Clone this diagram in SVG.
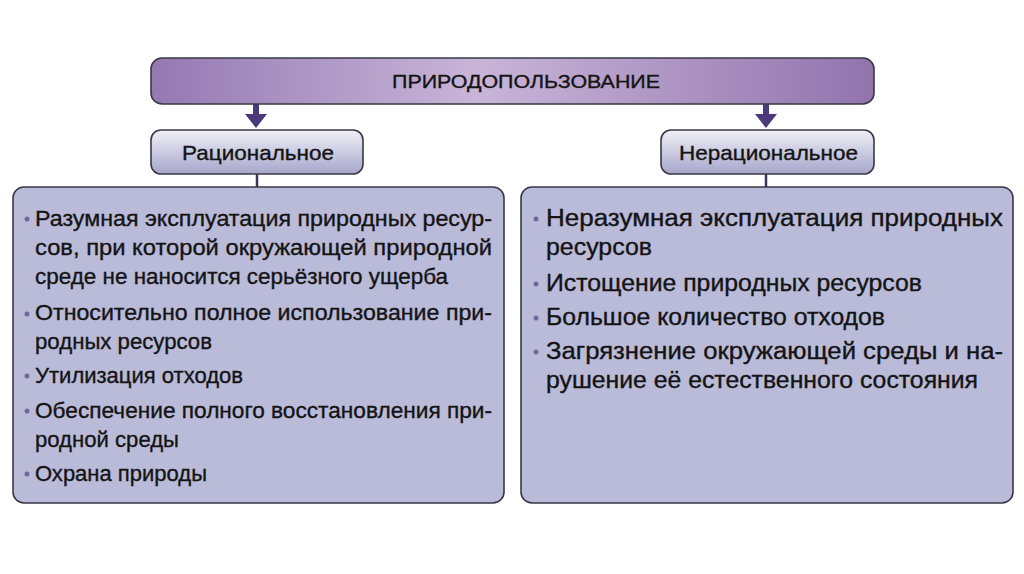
<svg xmlns="http://www.w3.org/2000/svg" width="1024" height="574" viewBox="0 0 1024 574">
<defs>
<linearGradient id="gTop" x1="0" y1="0" x2="1" y2="0">
<stop offset="0" stop-color="#9479b2"/>
<stop offset="0.45" stop-color="#c8b5d8"/>
<stop offset="1" stop-color="#9274ad"/>
</linearGradient>
<linearGradient id="gSub" x1="0" y1="0" x2="0" y2="1">
<stop offset="0" stop-color="#f0f0f8"/>
<stop offset="1" stop-color="#a6a6cb"/>
</linearGradient>
<style>
.box{stroke:#3a3846;stroke-width:1.6}
.t{font-family:"Liberation Sans",Arial,sans-serif;fill:#141414;stroke:#141414;stroke-width:0.35}
.h{font-size:19px}
.s{font-size:21px}
.l{font-size:22px}
.r{font-size:23px}
.b{fill:#76679a}
.arr{fill:#4a3a7c}
.ln{stroke:#3e3264;stroke-width:2.5}
</style>
</defs>
<rect width="1024" height="574" fill="#ffffff"/>
<g id="connectors">
<polygon class="arr" points="253,104 259,104 259,114 267,114 256,128 245,114 253,114"/>
<polygon class="arr" points="763,104 769,104 769,114 777,114 766,128 755,114 763,114"/>
<line class="ln" x1="257" y1="174" x2="257" y2="187"/>
<line class="ln" x1="766" y1="174" x2="766" y2="187"/>
</g>
<g id="node-top">
<rect class="box" x="151" y="58" width="723" height="46" rx="11" fill="url(#gTop)"/>
<text class="t h" x="392" y="88" textLength="268" lengthAdjust="spacingAndGlyphs">ПРИРОДОПОЛЬЗОВАНИЕ</text>
</g>
<g id="node-rational">
<rect class="box" x="151" y="130" width="212" height="44" rx="10" fill="url(#gSub)"/>
<text class="t s" x="182" y="160" textLength="152" lengthAdjust="spacingAndGlyphs">Рациональное</text>
</g>
<g id="node-irrational">
<rect class="box" x="661" y="130" width="213" height="44" rx="10" fill="url(#gSub)"/>
<text class="t s" x="679" y="160" textLength="179" lengthAdjust="spacingAndGlyphs">Нерациональное</text>
</g>
<g id="node-rational-list">
<rect class="box" x="13" y="187" width="491" height="316" rx="11" fill="#babad9"/>
<circle class="b" cx="27" cy="219" r="2.5"/>
<circle class="b" cx="27" cy="314" r="2.5"/>
<circle class="b" cx="27" cy="376" r="2.5"/>
<circle class="b" cx="27" cy="411" r="2.5"/>
<circle class="b" cx="27" cy="474" r="2.5"/>
<text class="t l" x="35" y="226" textLength="457" lengthAdjust="spacingAndGlyphs">Разумная эксплуатация природных ресур-</text>
<text class="t l" x="35" y="255" textLength="457" lengthAdjust="spacingAndGlyphs">сов, при которой окружающей природной</text>
<text class="t l" x="35" y="284" textLength="413" lengthAdjust="spacingAndGlyphs">среде не наносится серьёзного ущерба</text>
<text class="t l" x="35" y="320" textLength="457" lengthAdjust="spacingAndGlyphs">Относительно полное использование при-</text>
<text class="t l" x="35" y="349" textLength="177" lengthAdjust="spacingAndGlyphs">родных ресурсов</text>
<text class="t l" x="35" y="383" textLength="208" lengthAdjust="spacingAndGlyphs">Утилизация отходов</text>
<text class="t l" x="35" y="418" textLength="457" lengthAdjust="spacingAndGlyphs">Обеспечение полного восстановления при-</text>
<text class="t l" x="35" y="447" textLength="144" lengthAdjust="spacingAndGlyphs">родной среды</text>
<text class="t l" x="35" y="481" textLength="172" lengthAdjust="spacingAndGlyphs">Охрана природы</text>
</g>
<g id="node-irrational-list">
<rect class="box" x="521" y="187" width="492" height="316" rx="11" fill="#babad9"/>
<circle class="b" cx="536" cy="219" r="2.5"/>
<circle class="b" cx="536" cy="284" r="2.5"/>
<circle class="b" cx="536" cy="318" r="2.5"/>
<circle class="b" cx="536" cy="352" r="2.5"/>
<text class="t r" x="546" y="226" textLength="457" lengthAdjust="spacingAndGlyphs">Неразумная эксплуатация природных</text>
<text class="t r" x="546" y="255" textLength="106" lengthAdjust="spacingAndGlyphs">ресурсов</text>
<text class="t r" x="546" y="291" textLength="376" lengthAdjust="spacingAndGlyphs">Истощение природных ресурсов</text>
<text class="t r" x="546" y="325" textLength="339" lengthAdjust="spacingAndGlyphs">Большое количество отходов</text>
<text class="t r" x="546" y="359" textLength="457" lengthAdjust="spacingAndGlyphs">Загрязнение окружающей среды и на-</text>
<text class="t r" x="546" y="388" textLength="432" lengthAdjust="spacingAndGlyphs">рушение её естественного состояния</text>
</g>
</svg>
